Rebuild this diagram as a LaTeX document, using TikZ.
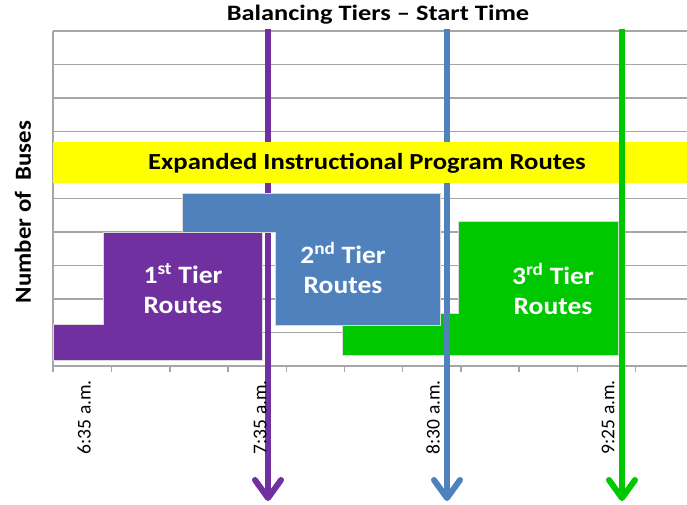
\documentclass[tikz,border=0pt]{standalone}
\usepackage{fontspec}
\setmainfont{Carlito}
\usetikzlibrary{arrows.meta}
\definecolor{tpurple}{HTML}{7030A0}
\definecolor{tblue}{HTML}{4F81BD}
\definecolor{tgreen}{HTML}{00C800}
\definecolor{tyellow}{HTML}{FFFF00}
\definecolor{tgrid}{HTML}{A6A6A6}
\newcommand{\wide}[2]{\scalebox{#1}[1]{#2}}
\tikzset{
  gridline/.style={draw=tgrid, line width=1.3pt},
  block/.style={draw=white!85!black, line width=0.6pt},
  timearrow/.style={line width=6pt, -{Straight Barb[length=18pt,width=26pt,round]}},
  tierlabel/.style={text=white, font=\fontsize{25}{30}\selectfont\bfseries, align=center},
  timelabel/.style={rotate=90, anchor=east, font=\fontsize{19.5}{22}\selectfont, inner sep=0pt},
}
\begin{document}
\begin{tikzpicture}[x=1pt, y=-1pt]
\useasboundingbox (0,0) rectangle (687,504);
% grid
\foreach \k in {0,...,10} {
  \draw[gridline] (53,{31+33.5*\k}) -- (687,{31+33.5*\k});
}
\draw[gridline] (53,31) -- (53,372);
\foreach \k in {1,...,10} {
  \draw[gridline] ({53.5+58.2*\k},366) -- ({53.5+58.2*\k},372);
}
% title
\node[font=\fontsize{22}{24}\selectfont\bfseries] (title) at (378,15) {\wide{1.2}{Balancing Tiers -- Start Time}};
% y label
\node[rotate=90, font=\fontsize{23}{24}\selectfont\bfseries] (ylab) at (23,212) {\wide{1.08}{Number of\ \ Buses}};
% green block
\fill[tgreen, block] (458,221) -- (618,221) -- (618,355) -- (342,355) -- (342,313) -- (458,313) -- cycle;
% purple block
\fill[tpurple, block] (53,324) -- (103,324) -- (103,232) -- (262,232) -- (262,360) -- (53,360) -- cycle;
% purple arrow
\coordinate (pa) at (268,29);
\coordinate (pb) at (268,501);
\draw[timearrow, tpurple] (pa) -- (pb);
% blue block
\fill[tblue, block] (182,193) -- (440,193) -- (440,325) -- (275,325) -- (275,232) -- (182,232) -- cycle;
% blue arrow
\coordinate (ba) at (447,29);
\coordinate (bb) at (447,501);
\draw[timearrow, tblue] (ba) -- (bb);
% yellow band
\fill[tyellow] (53,142) rectangle (687,183);
\node[font=\fontsize{23}{24}\selectfont\bfseries] (eip) at (367,163) {\wide{1.16}{Expanded Instructional Program Routes}};
% green arrow
\coordinate (ga) at (622,29);
\coordinate (gb) at (622,501);
\draw[timearrow, tgreen] (ga) -- (gb);
% tier labels
\node[tierlabel] (t1) at (183,289) {\wide{1.1}{1\textsuperscript{st} Tier}\\\wide{1.1}{Routes}};
\node[tierlabel] (t2) at (343,268) {\wide{1.1}{2\textsuperscript{nd} Tier}\\\wide{1.1}{Routes}};
\node[tierlabel] (t3) at (553,289) {\wide{1.1}{3\textsuperscript{rd} Tier}\\\wide{1.1}{Routes}};
% time labels
\node[timelabel] (l1) at (84,380) {6:35 a.m.};
\node[timelabel] (l2) at (260,380) {7:35 a.m.};
\node[timelabel] (l3) at (433,380) {8:30 a.m.};
\node[timelabel] (l4) at (608,380) {9:25 a.m.};
\end{tikzpicture}
\end{document}
